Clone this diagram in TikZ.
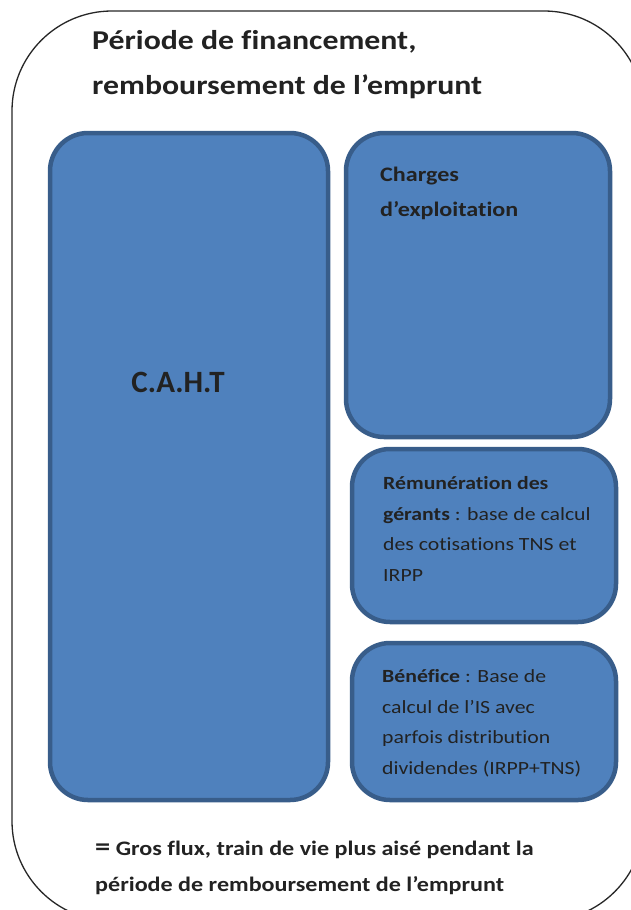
\documentclass[tikz,border=0pt]{standalone}
\usepackage{fontspec}
\setmainfont{Carlito}[FakeStretch=1.17, Ligatures=NoCommon]
\newfontfamily\cahtfont{Carlito}
\usetikzlibrary{positioning}

\definecolor{boxfill}{HTML}{4F81BD}
\definecolor{boxline}{HTML}{385D8A}
\definecolor{ink}{HTML}{222222}

\tikzset{
  bloc/.style={draw=boxline, fill=boxfill, line width=4.5pt, rounded corners=38pt, inner sep=0pt},
  cadre/.style={draw=black!85, line width=1.3pt, rounded corners=100pt, inner sep=0pt},
  texte/.style={anchor=base west, inner sep=0pt, align=left, text=ink, font=\fontsize{18.6}{30.5}\selectfont}
}

\begin{document}
\begin{tikzpicture}[x=1pt, y=-1pt]
\useasboundingbox (0,0) rectangle (630,910);
			% cadre general
			\node[cadre, minimum width=632pt, minimum height=910pt] (C) at (328,466) {};
			\node[texte, font=\bfseries\fontsize{27.2}{44.5}\selectfont] (T) at (92,94) {Période de financement,\\remboursement de l’emprunt};
			
			% blocs
			\node[bloc, minimum width=278pt, minimum height=667pt] (A) at (189,466.5) {};
			\node[bloc, minimum width=264pt, minimum height=304pt] (B) at (478,285) {};
			\node[bloc, minimum width=264pt, minimum height=173pt] (D) at (484,535.5) {};
			\node[bloc, minimum width=264pt, minimum height=157pt] (E) at (484,721.5) {};
			
			% textes (ancre = ligne de base de la derniere ligne)
			\node[text=ink, anchor=base, inner sep=0pt, font=\cahtfont\bfseries\fontsize{31}{31}\selectfont] (caht) at (178,392) {C.A.H.T};
			\node[texte, font=\bfseries\fontsize{20.6}{35}\selectfont] (charges) at (380,216) {Charges\\d’exploitation};
			\node[texte] (gerants) at (383,581) {\textbf{Rémunération des}\\\textbf{gérants} : base de calcul\\des cotisations TNS et\\IRPP};
			\node[texte] (benef) at (382,774) {\textbf{Bénéfice} : Base de\\calcul de l’IS avec\\parfois distribution\\dividendes (IRPP+TNS)};
			
			\node[texte, font=\bfseries\fontsize{20.6}{36}\selectfont] (bilan) at (95,891.5) {{\fontsize{26}{36}\selectfont=} Gros flux, train de vie plus aisé pendant la\\période de remboursement de l’emprunt};
\end{tikzpicture}
\end{document}
